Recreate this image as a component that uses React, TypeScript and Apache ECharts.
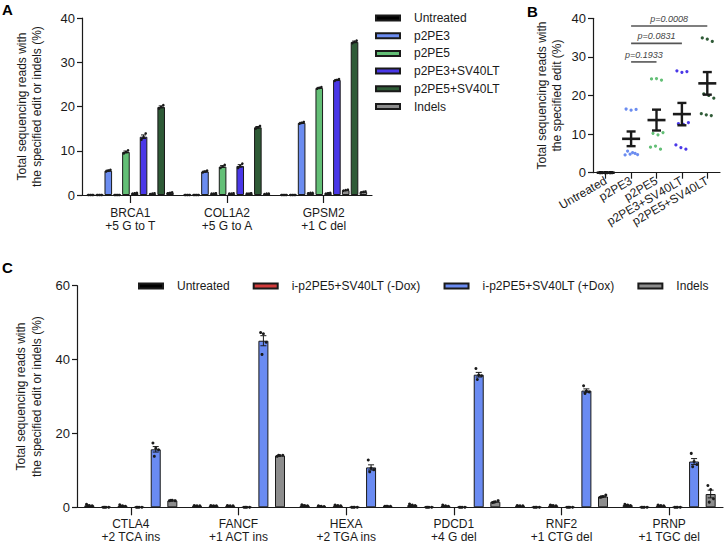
import React, { useEffect, useRef } from "react";
import * as echarts from "echarts";

const FONT = "'Liberation Sans', Arial, Helvetica, sans-serif";
const INK = "#1a1a1a";

// ---------------- Panel A data (replicates per category: BRCA1, COL1A2, GPSM2) ----------------
const categoriesA = ["BRCA1\n+5 G to T", "COL1A2\n+5 G to A", "GPSM2\n+1 C del"];
const legendNamesA = ["Untreated", "p2PE3", "p2PE5", "p2PE3+SV40LT", "p2PE5+SV40LT", "Indels"];
const untreatedA = [[0, 0, 0], [0, 0, 0], [0, 0, 0]];
const untreatedIndelsA = [[0, 0, 0], [0, 0, 0], [0, 0, 0]];
const p2PE3A = [[5.3, 5.5, 5.7], [5.1, 5.3, 5.5], [16.1, 16.3, 16.5]];
const p2PE3IndelsA = [[0, 0, 0], [0.3, 0.3, 0.4], [0.4, 0.5, 0.5]];
const p2PE5A = [[9.4, 9.7, 10.1], [6.1, 6.4, 6.8], [24.0, 24.2, 24.4]];
const p2PE5IndelsA = [[0.3, 0.4, 0.5], [0.3, 0.3, 0.4], [0.3, 0.4, 0.5]];
const p2PE3SVA = [[12.5, 13.1, 13.9], [6.1, 6.5, 7.1], [25.8, 26.0, 26.2]];
const p2PE3SVIndelsA = [[0.2, 0.3, 0.4], [0.3, 0.3, 0.4], [1.0, 1.1, 1.2]];
const p2PE5SVA = [[19.5, 19.9, 20.3], [15.0, 15.3, 15.6], [34.3, 34.6, 34.9]];
const p2PE5SVIndelsA = [[0.4, 0.5, 0.6], [0.2, 0.3, 0.3], [0.6, 0.7, 0.8]];

// ---------------- Panel B data ----------------
const categoriesB = ["Untreated", "p2PE3", "p2PE5", "p2PE3+SV40LT", "p2PE5+SV40LT"];
const untreatedB = [0, 0, 0, 0, 0, 0, 0, 0, 0];
const p2PE3B = [16.5, 16.2, 16.4, 5.6, 5.2, 4.7, 4.6, 4.8, 5.0];
const p2PE5B = [24.3, 24.4, 24.0, 10.2, 9.8, 10.4, 6.6, 6.9, 6.1];
const p2PE3SVB = [26.4, 26.0, 26.2, 12.7, 12.5, 13.0, 7.2, 6.5, 6.1];
const p2PE5SVB = [34.9, 34.6, 34.0, 20.4, 20.0, 19.3, 15.3, 15.0, 14.8];
const pValuesB = ["p=0.1933", "p=0.0831", "p=0.0008"];
const bracketFromB = [1, 1, 1];
const bracketToB = [2, 3, 4];
const bracketHeightsB = [28.7, 33.5, 38.0];

// ---------------- Panel C data (4 replicates per category) ----------------
const categoriesC = [
  "CTLA4\n+2 TCA ins",
  "FANCF\n+1 ACT ins",
  "HEXA\n+2 TGA ins",
  "PDCD1\n+4 G del",
  "RNF2\n+1 CTG del",
  "PRNP\n+1 TGC del",
];
const legendNamesC = ["Untreated", "i-p2PE5+SV40LT (-Dox)", "i-p2PE5+SV40LT (+Dox)", "Indels"];
const untreatedC = [[0.8, 0.5, 0.4, 0.4], [0.5, 0.4, 0.4, 0.3], [0.7, 0.5, 0.4, 0.4], [0.9, 0.6, 0.5, 0.4], [0.5, 0.4, 0.4, 0.3], [0.8, 0.6, 0.5, 0.5]];
const untreatedIndelsC = [[0, 0, 0, 0], [0.5, 0.4, 0.4, 0.3], [0.4, 0.3, 0.2, 0.2], [0, 0, 0, 0], [0, 0, 0, 0], [0, 0, 0, 0]];
const minusDoxC = [[0.7, 0.4, 0.3, 0.3], [0.5, 0.4, 0.4, 0.3], [0.6, 0.5, 0.4, 0.3], [0.6, 0.4, 0.3, 0.2], [0.6, 0.5, 0.4, 0.4], [0.6, 0.5, 0.4, 0.3]];
const minusDoxIndelsC = [[0, 0, 0, 0], [0, 0, 0, 0], [0, 0, 0, 0], [0, 0, 0, 0], [0, 0, 0, 0], [0, 0, 0, 0]];
const plusDoxC = [[17.4, 16.0, 15.6, 13.8], [47.3, 47.0, 44.7, 41.4], [12.8, 10.6, 10.2, 9.6], [37.6, 35.8, 35.6, 34.6], [32.9, 31.5, 31.2, 30.8], [14.6, 12.4, 11.6, 11.0]];
const plusDoxIndelsC = [[1.8, 1.9, 1.8, 1.9], [13.8, 14.0, 14.1, 14.1], [0.3, 0.3, 0.3, 0.3], [1.3, 1.5, 1.8, 1.4], [2.7, 2.9, 3.3, 2.8], [5.9, 4.8, 2.3, 1.4]];

// ---------------- colours ----------------
const C_UNTREATED = "#000000";
const C_P2PE3 = "#6b8cf0";
const C_P2PE5 = "#63bf76";
const C_P2PE3SV = "#4a38e8";
const C_P2PE5SV = "#2f5b37";
const C_INDELS = "#8d8d8d";
const C_MINUSDOX = "#d23b3b";
const C_PLUSDOX = "#6a8bf2";

type Slot = { name: string; color: string; reps: number[][] };

const mean = (a: number[]) => a.reduce((s, v) => s + v, 0) / a.length;
const sem = (a: number[]) => {
  const m = mean(a);
  const v = a.reduce((s, x) => s + (x - m) * (x - m), 0) / (a.length - 1);
  return Math.sqrt(v / a.length);
};

function barPanel(slots: Slot[], gi: number, barW: number, gapFrac: number, capW: number, dotR: number) {
  const gapPx = barW * gapFrac;
  const n = slots.length;
  const bars: any[] = slots.map((s) => ({
    type: "bar",
    name: s.name,
    xAxisIndex: gi,
    yAxisIndex: gi,
    barWidth: barW,
    barGap: `${gapFrac * 100}%`,
    itemStyle: { color: s.color, borderColor: INK, borderWidth: 1 },
    data: s.reps.map(mean),
    z: 2,
    silent: true,
  }));
  const errData: number[][] = [];
  slots.forEach((s, j) => s.reps.forEach((_r, i) => errData.push([i, j])));
  const err = {
    type: "custom",
    name: "_err" + gi,
    xAxisIndex: gi,
    yAxisIndex: gi,
    z: 4,
    silent: true,
    encode: { x: 0, y: 1 },
    data: errData,
    renderItem: (_params: any, api: any) => {
      const i = api.value(0);
      const j = api.value(1);
      const reps = slots[j].reps[i];
      const m = mean(reps);
      const e = sem(reps);
      const cx = api.coord([i, 0])[0] + (j - (n - 1) / 2) * (barW + gapPx);
      const yHi = api.coord([i, m + e])[1];
      const yLo = api.coord([i, Math.max(0, m - e)])[1];
      const children: any[] = [];
      const ls = { stroke: INK, lineWidth: 1 };
      if (yLo - yHi > 0.8) {
        children.push({ type: "line", shape: { x1: cx, y1: yHi, x2: cx, y2: yLo }, style: ls });
        children.push({ type: "line", shape: { x1: cx - capW / 2, y1: yHi, x2: cx + capW / 2, y2: yHi }, style: ls });
        children.push({ type: "line", shape: { x1: cx - capW / 2, y1: yLo, x2: cx + capW / 2, y2: yLo }, style: ls });
      }
      reps.forEach((v, k) => {
        const off = ((k % 3) - 1) * barW * 0.28 + (k >= 3 ? barW * 0.14 : 0);
        children.push({
          type: "circle",
          shape: { cx: cx + off, cy: api.coord([i, v])[1], r: dotR },
          style: { fill: INK },
        });
      });
      return { type: "group", children };
    },
  };
  return [...bars, err];
}

const slotsA: Slot[] = [
  { name: "Untreated", color: C_UNTREATED, reps: untreatedA },
  { name: "Indels", color: C_INDELS, reps: untreatedIndelsA },
  { name: "p2PE3", color: C_P2PE3, reps: p2PE3A },
  { name: "Indels", color: C_INDELS, reps: p2PE3IndelsA },
  { name: "p2PE5", color: C_P2PE5, reps: p2PE5A },
  { name: "Indels", color: C_INDELS, reps: p2PE5IndelsA },
  { name: "p2PE3+SV40LT", color: C_P2PE3SV, reps: p2PE3SVA },
  { name: "Indels", color: C_INDELS, reps: p2PE3SVIndelsA },
  { name: "p2PE5+SV40LT", color: C_P2PE5SV, reps: p2PE5SVA },
  { name: "Indels", color: C_INDELS, reps: p2PE5SVIndelsA },
];

const slotsC: Slot[] = [
  { name: "Untreated", color: C_UNTREATED, reps: untreatedC },
  { name: "Indels", color: C_INDELS, reps: untreatedIndelsC },
  { name: "i-p2PE5+SV40LT (-Dox)", color: C_MINUSDOX, reps: minusDoxC },
  { name: "Indels", color: C_INDELS, reps: minusDoxIndelsC },
  { name: "i-p2PE5+SV40LT (+Dox)", color: C_PLUSDOX, reps: plusDoxC },
  { name: "Indels", color: C_INDELS, reps: plusDoxIndelsC },
];

const groupsB = [untreatedB, p2PE3B, p2PE5B, p2PE3SVB, p2PE5SVB];
const dotColorsB = [C_UNTREATED, C_P2PE3, C_P2PE5, C_P2PE3SV, C_P2PE5SV];

const axisLineStyle = { color: INK, width: 1.2 };

function yAxis(gi: number, max: number, interval: number, name: string, nameGap: number) {
  return {
    type: "value",
    gridIndex: gi,
    min: 0,
    max,
    interval,
    name,
    nameLocation: "middle",
    nameGap,
    nameRotate: 90,
    nameTextStyle: { fontFamily: FONT, fontSize: 12, color: INK, lineHeight: 15.5 },
    axisLine: { show: true, lineStyle: axisLineStyle },
    axisTick: { show: true, length: 5, lineStyle: axisLineStyle },
    axisLabel: { fontFamily: FONT, fontSize: 13, color: INK, margin: 7 },
    splitLine: { show: false },
  };
}

function xAxisCat(gi: number, data: string[], margin: number, tickLen: number, lineHeight: number, extra: any = {}) {
  return {
    type: "category",
    gridIndex: gi,
    data,
    axisLine: { show: true, lineStyle: axisLineStyle },
    axisTick: { show: true, alignWithLabel: true, length: tickLen, lineStyle: axisLineStyle },
    axisLabel: { fontFamily: FONT, fontSize: 12, color: INK, lineHeight, margin, interval: 0, ...extra },
    splitLine: { show: false },
  };
}

export default function App() {
  const ref = useRef<HTMLDivElement>(null);
  useEffect(() => {
    document.body.style.margin = "0";
    if (!ref.current) return;
    const chart = echarts.init(ref.current, undefined, { renderer: "svg" });

    const seriesB = {
      type: "custom",
      name: "_scatterB",
      xAxisIndex: 1,
      yAxisIndex: 1,
      z: 4,
      silent: true,
      encode: { x: 0, y: 1 },
      data: categoriesB.map((_c, i) => [i, mean(groupsB[i])]),
      renderItem: (_p: any, api: any) => {
        const i = api.value(0);
        const vals = groupsB[i];
        const m = mean(vals);
        const e = sem(vals);
        const cx = api.coord([i, m])[0];
        const ym = api.coord([i, m])[1];
        const children: any[] = [];
        vals.forEach((v, k) => {
          const t = Math.floor(k / 3);
          const off = ((k % 3) - 1) * 5 + (t % 2 === 1 ? 1.5 : 0) - (t === 2 ? 1 : 0);
          children.push({
            type: "circle",
            shape: { cx: cx + off, cy: api.coord([i, v])[1], r: 1.6 },
            style: { fill: dotColorsB[i] },
          });
        });
        const st = { stroke: INK, lineWidth: 2.4 };
        if (e > 0) {
          const yHi = api.coord([i, m + e])[1];
          const yLo = api.coord([i, m - e])[1];
          children.push({ type: "line", shape: { x1: cx, y1: yHi, x2: cx, y2: yLo }, style: st });
          children.push({ type: "line", shape: { x1: cx - 4.5, y1: yHi, x2: cx + 4.5, y2: yHi }, style: st });
          children.push({ type: "line", shape: { x1: cx - 4.5, y1: yLo, x2: cx + 4.5, y2: yLo }, style: st });
        }
        children.push({ type: "line", shape: { x1: cx - 9, y1: ym, x2: cx + 9, y2: ym }, style: { stroke: INK, lineWidth: 2.6 } });
        return { type: "group", children };
      },
    };

    const bracketsB = {
      type: "custom",
      name: "_bracketsB",
      xAxisIndex: 1,
      yAxisIndex: 1,
      z: 5,
      silent: true,
      encode: { x: 0, y: 2 },
      data: pValuesB.map((_p, k) => [bracketFromB[k], bracketToB[k], bracketHeightsB[k]]),
      renderItem: (params: any, api: any) => {
        const a = api.coord([api.value(0), api.value(2)]);
        const b = api.coord([api.value(1), api.value(2)]);
        return {
          type: "group",
          children: [
            { type: "line", shape: { x1: a[0], y1: a[1], x2: b[0], y2: b[1] }, style: { stroke: "#555", lineWidth: 1.6 } },
            {
              type: "text",
              x: (a[0] + b[0]) / 2,
              y: a[1] - 2.5,
              style: {
                text: pValuesB[params.dataIndex],
                fill: "#444",
                font: `italic 9px ${FONT}`,
                align: "center",
                verticalAlign: "bottom",
              },
            },
          ],
        };
      },
    };

    const option: any = {
      animation: false,
      backgroundColor: "#fff",
      textStyle: { fontFamily: FONT },
      grid: [
        { left: 82, top: 18, width: 290, height: 177, outerBoundsMode: "none" },
        { left: 593, top: 18.3, width: 127, height: 154.4, outerBoundsMode: "none" },
        { left: 77, top: 285.7, width: 646, height: 221.6, outerBoundsMode: "none" },
      ],
      xAxis: [
        xAxisCat(0, categoriesA, 11, 8, 13.5),
        xAxisCat(1, categoriesB, 7, 6, 13.5, { rotate: 30 }),
        xAxisCat(2, categoriesC, 10, 8, 13),
      ],
      yAxis: [
        yAxis(0, 40, 10, "Total sequencing reads with\nthe specified edit or indels (%)", 37),
        yAxis(1, 40, 10, "Total sequencing reads with\nthe specified edit (%)", 28),
        yAxis(2, 60, 20, "Total sequencing reads with\nthe specified edit or indels (%)", 30),
      ],
      legend: [
        {
          orient: "vertical",
          left: 375,
          top: 11,
          padding: 0,
          itemWidth: 24,
          itemHeight: 5,
          itemGap: 3.7,
          icon: "rect",
          selectedMode: false,
          data: legendNamesA,
          textStyle: { fontFamily: FONT, fontSize: 12, color: INK, lineHeight: 14, padding: [0, 0, 0, 9] },
        },
        {
          orient: "horizontal",
          left: 138,
          top: 279,
          padding: 0,
          itemWidth: 24,
          itemHeight: 5,
          itemGap: 23,
          icon: "rect",
          selectedMode: false,
          data: legendNamesC,
          textStyle: { fontFamily: FONT, fontSize: 12, color: INK, lineHeight: 14, padding: [0, 0, 0, 9] },
        },
      ],
      graphic: [
        { type: "text", left: 2, top: 2, style: { text: "A", font: `bold 15px ${FONT}`, fill: "#000" } },
        { type: "text", left: 527, top: 4, style: { text: "B", font: `bold 15px ${FONT}`, fill: "#000" } },
        { type: "text", left: 2, top: 260, style: { text: "C", font: `bold 15px ${FONT}`, fill: "#000" } },
      ],
      series: [
        ...barPanel(slotsA, 0, 7.6, 0.16, 5, 1.3),
        seriesB,
        bracketsB,
        ...barPanel(slotsC, 2, 10, 0.66, 6, 1.5),
      ],
    };
    chart.setOption(option);
    return () => chart.dispose();
  }, []);
  return <div ref={ref} style={{ width: 727, height: 544 }} />;
}
